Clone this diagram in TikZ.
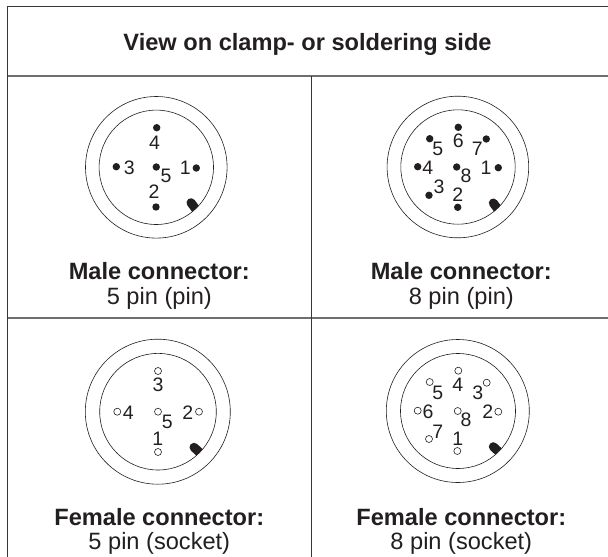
\documentclass[tikz,border=0pt]{standalone}
\usepackage{fontspec}
\setmainfont{Liberation Sans}
\definecolor{ink}{HTML}{231F20}
\tikzset{
  x=1pt,y=-1pt,
  grid/.style={draw=ink!90,line width=1pt},
  gridsoft/.style={draw=ink!65,line width=1.3pt},
  ring/.style={circle,draw=ink,line width=0.6pt,inner sep=0pt},
  pinm/.style={circle,fill=ink,inner sep=0pt,minimum size=7.4pt},
  pinf/.style={circle,draw=ink,fill=white,line width=0.6pt,inner sep=0pt,minimum size=7pt},
  num/.style={inner sep=0pt,text=ink,font=\fontsize{19.5}{19.5}\selectfont},
  title/.style={inner sep=0pt,anchor=base,text=ink,font=\fontsize{23.6}{23.6}\selectfont\bfseries},
  sub/.style={inner sep=0pt,anchor=base,text=ink,font=\fontsize{23.6}{23.6}\selectfont},
  keytab/.style={line width=9pt,draw=ink,line cap=round}
}
\begin{document}
\begin{tikzpicture}
\useasboundingbox (0,0) rectangle (608,557);
\fill[white] (0,0) rectangle (608,557);
\coordinate (tl) at (7.5,6.5); \coordinate (tr) at (608,6.5);
\coordinate (bl) at (7.5,557); \coordinate (hl) at (7.5,76); \coordinate (hr) at (608,76);
\coordinate (ml) at (7.5,318); \coordinate (mr) at (608,318);
\coordinate (ct) at (311,76); \coordinate (cb) at (311,557);
\draw[grid] (tr) -- (tl) -- (bl);
\draw[gridsoft] (hl) -- (hr);
\draw[gridsoft] (ml) -- (mr);
\draw[grid] (ct) -- (cb);
\node[title] (head) at (307.5,50) {View on clamp- or soldering side};
% male 5
\begin{scope}
\clip (156.3,167.3) circle (57.2);
\draw[keytab] (191,202.7) -- (199,213.5);
\end{scope}
\node[ring,minimum size=141.6pt] (a1) at (156.3,167.3) {};
\node[ring,minimum size=114.4pt] (a2) at (156.3,167.3) {};
\foreach \x/\y in {156.7/127.7,116.3/166.7,156.3/167,196.3/168,156/207}{\node[pinm] at (\x,\y) {};}
\node[num] (a4) at (154.5,143) {4};
\node[num] (a3) at (129.3,167.5) {3};
\node[num] (a5) at (166,176) {5};
\node[num] (a0) at (185.3,167.5) {1};
\node[num] (a6) at (154,191.5) {2};
\node[title] (t1) at (159.3,279) {Male connector:};
\node[sub] (s1) at (159.3,304.5) {5 pin (pin)};
% male 8
\begin{scope}
\clip (458,167) circle (57.2);
\draw[keytab] (493.3,203) -- (501.3,213.8);
\end{scope}
\node[ring,minimum size=141.6pt] (b1) at (457.9,167) {};
\node[ring,minimum size=114.4pt] (b2) at (458,167) {};
\foreach \x/\y in {458.3/127.3,429.7/138.7,486.3/139,417.7/166.7,456.7/167,498.3/167.7,429/195.3,457.7/207.3}{\node[pinm] at (\x,\y) {};}
\node[num] (b6) at (458.3,141) {6};
\node[num] (b5) at (437.7,149) {5};
\node[num] (b7) at (477.3,149) {7};
\node[num] (b4) at (427.7,168) {4};
\node[num] (b0) at (486,168) {1};
\node[num] (b8) at (466,176) {8};
\node[num] (b3) at (439,187) {3};
\node[num] (b9) at (457.7,195) {2};
\node[title] (t2) at (461.3,279) {Male connector:};
\node[sub] (s2) at (461.3,304.5) {8 pin (pin)};
% female 5
\begin{scope}
\clip (158,411.7) circle (58.3);
\draw[keytab] (194,447.3) -- (203,455.5);
\end{scope}
\node[ring,minimum size=145pt] (c1) at (157.8,411.7) {};
\node[ring,minimum size=116.6pt] (c2) at (158,411.7) {};
\foreach \x/\y in {158/371,117.3/411.7,158/411.7,199/411.7,158/452}{\node[pinf] at (\x,\y) {};}
\node[num] (c3) at (158,384.5) {3};
\node[num] (c4) at (128.3,412.5) {4};
\node[num] (c5) at (167.3,421.5) {5};
\node[num] (c0) at (187.7,412.5) {2};
\node[num] (c6) at (157.7,438.5) {1};
\node[title] (t3) at (159.3,525) {Female connector:};
\node[sub] (s3) at (159.3,549.5) {5 pin (socket)};
% female 8
\begin{scope}
\clip (458,411) circle (57.4);
\draw[keytab] (493.3,446.7) -- (502.3,455);
\end{scope}
\node[ring,minimum size=143pt] (d1) at (457.8,411) {};
\node[ring,minimum size=115pt] (d2) at (458,411) {};
\foreach \x/\y in {458.3/370.7,429.7/382,486.7/382.7,417.7/410.7,457.7/411,498.3/411.7,429/439,457.3/451}{\node[pinf] at (\x,\y) {};}
\node[num] (d4) at (457.7,384.5) {4};
\node[num] (d5) at (437.7,392.5) {5};
\node[num] (d3) at (477.7,392.5) {3};
\node[num] (d6) at (428,411.5) {6};
\node[num] (d0) at (487.7,411.5) {2};
\node[num] (d8) at (466,420) {8};
\node[num] (d7) at (437.7,431.5) {7};
\node[num] (d9) at (457.7,438.5) {1};
\node[title] (t4) at (461.3,525) {Female connector:};
\node[sub] (s4) at (461.3,549.5) {8 pin (socket)};
\end{tikzpicture}
\end{document}
